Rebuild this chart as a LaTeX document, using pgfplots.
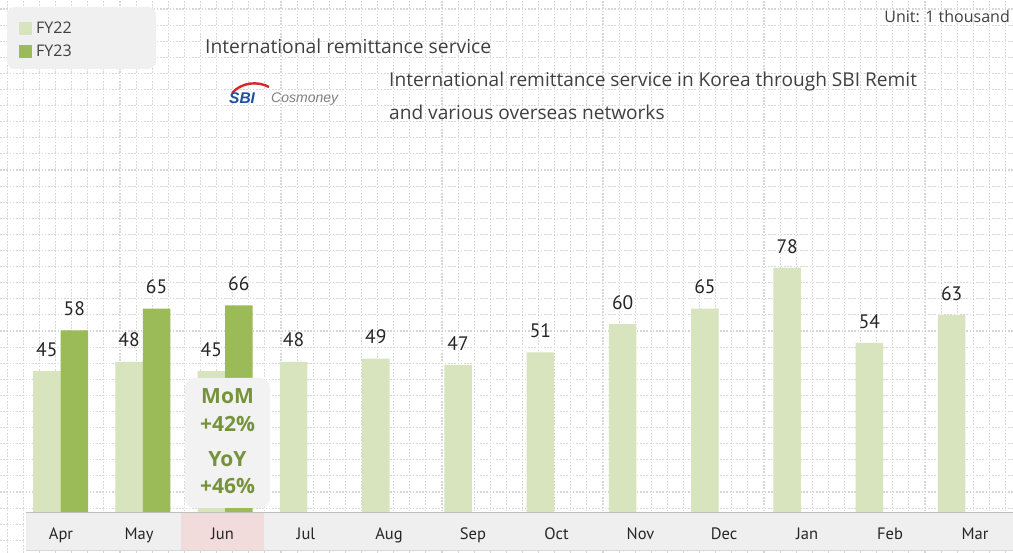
\documentclass[border=0pt]{standalone}
\usepackage{fontspec}
\setmainfont{Open Sans}
\newfontfamily\numfont{PT Sans}
\newfontfamily\logofont{Liberation Sans}
\usepackage{pgfplots}
\pgfplotsset{compat=1.18}
\definecolor{fyA}{HTML}{D7E4BD}
\definecolor{fyB}{HTML}{9BBB59}
\definecolor{gridc}{HTML}{D6D6D6}
\definecolor{stripc}{HTML}{EFEFEF}
\definecolor{stripl}{HTML}{BFBFBF}
\definecolor{junc}{HTML}{F2DCDB}
\definecolor{legc}{HTML}{F0F0F0}
\definecolor{callc}{HTML}{F2F2F2}
\definecolor{callt}{HTML}{76933C}
\definecolor{txt}{HTML}{262626}
\definecolor{ttl}{HTML}{404040}
\definecolor{sbiblue}{HTML}{1F4E9E}
\definecolor{sbired}{HTML}{D9262B}
\begin{document}
\begin{tikzpicture}[x=1pt,y=1pt]
\fill[white] (0,0) rectangle (1013,553);
\begin{scope}[shift={(7.3,12.7)}]
\draw[gridc, dash pattern=on 1.6pt off 1.6pt, line width=1.1pt, step=16.1] (-7.3,-12.7) grid (1005.7,540.3);
\end{scope}
% category strip
\fill[stripc] (26,3) rectangle (1013,41);
\fill[junc] (181,3) rectangle (264,41);
\draw[stripl, line width=0.8pt] (26,41) -- (1013,41);
\draw[stripl!60, line width=0.8pt] (26,3) -- (1013,3);
% legend box
\fill[legc, rounded corners=8pt] (7,484) rectangle (156,546);
\begin{axis}[
  at={(0,0)}, anchor=south west, scale only axis,
  width=1013pt, height=553pt,
  xmin=-0.7354, xmax=11.5777, ymin=-13.1, ymax=163.58,
  axis line style={draw=none}, tick style={draw=none},
  ytick=\empty,
  xtick={0.006,0.954,1.969,2.984,3.993,5.014,6.029,7.050,8.065,9.074,10.083,11.116},
  xticklabels={Apr,May,Jun,Jul,Aug,Sep,Oct,Nov,Dec,Jan,Feb,Mar},
  xticklabel style={font=\numfont\fontsize{16.5}{17}\selectfont, text=txt, anchor=base, yshift=18pt},
  ybar, bar width=27.5pt,
  /pgf/number format/assume math mode=true,
  nodes near coords,
  nodes near coords style={font=\numfont\fontsize{19.5}{20}\selectfont, text=txt, yshift=11pt},
  legend style={at={(rel axis cs:0.01876,0.962)}, anchor=north west, draw=none, fill=none,
    font=\fontsize{16}{17}\selectfont, text=ttl, row sep=8pt, column sep=3pt, inner sep=0pt,
    nodes={inner sep=1pt}},
  clip=false,
]
\addplot[fill=fyA, draw=none, bar shift=-13.75pt,
  legend image code/.code={\fill[fyA] (0pt,-6.5pt) rectangle (13pt,6.5pt);}]
  coordinates {(0,45) (1,48) (2,45) (3,48) (4,49) (5,47) (6,51) (7,60) (8,65) (9,78) (10,54) (11,63)};
\addlegendentry{FY22}
\addplot[fill=fyB, draw=none, bar shift=13.75pt,
  legend image code/.code={\fill[fyB] (0pt,-6.5pt) rectangle (13pt,6.5pt);}]
  coordinates {(0,58) (1,65) (2,66)};
\addlegendentry{FY23}
\end{axis}
% callout
\fill[callc, rounded corners=10pt] (185,45) rectangle (270,175);
\begin{scope}[every node/.style={text=callt, font=\fontsize{21}{22}\selectfont\bfseries}]
\node at (227.5,157) {MoM};
\node at (227.5,129) {+42\%};
\node at (227.5,94) {YoY};
\node at (227.5,67) {+46\%};
\end{scope}
% titles
\node[anchor=west, text=ttl, font=\fontsize{19.3}{20}\selectfont, inner sep=0pt] at (205,507) {International remittance service};
\node[anchor=west, text=ttl, font=\fontsize{19.1}{20}\selectfont, inner sep=0pt] at (389,471) {International remittance service in Korea through SBI Remit};
\node[anchor=west, text=ttl, font=\fontsize{19.1}{20}\selectfont, inner sep=0pt] at (389,441) {and various overseas networks};
\node[anchor=east, text=ttl, font=\fontsize{16}{17}\selectfont, inner sep=0pt] at (1010,536) {Unit: 1 thousand};
% logo
\draw[sbired, line width=2.4pt] (232,460) .. controls (242,471) and (258,472) .. (269,466);
\node[anchor=west, inner sep=0pt, text=sbiblue, font=\logofont\fontsize{15.5}{16}\selectfont\bfseries\itshape] at (229,455) {SBI};
\node[anchor=west, inner sep=0pt, text=gray, font=\logofont\fontsize{14}{15}\selectfont\itshape] at (271,454) {Cosmoney};
\pgfresetboundingbox
\path[use as bounding box] (0,0) rectangle (1013,553);
\end{tikzpicture}
\end{document}
